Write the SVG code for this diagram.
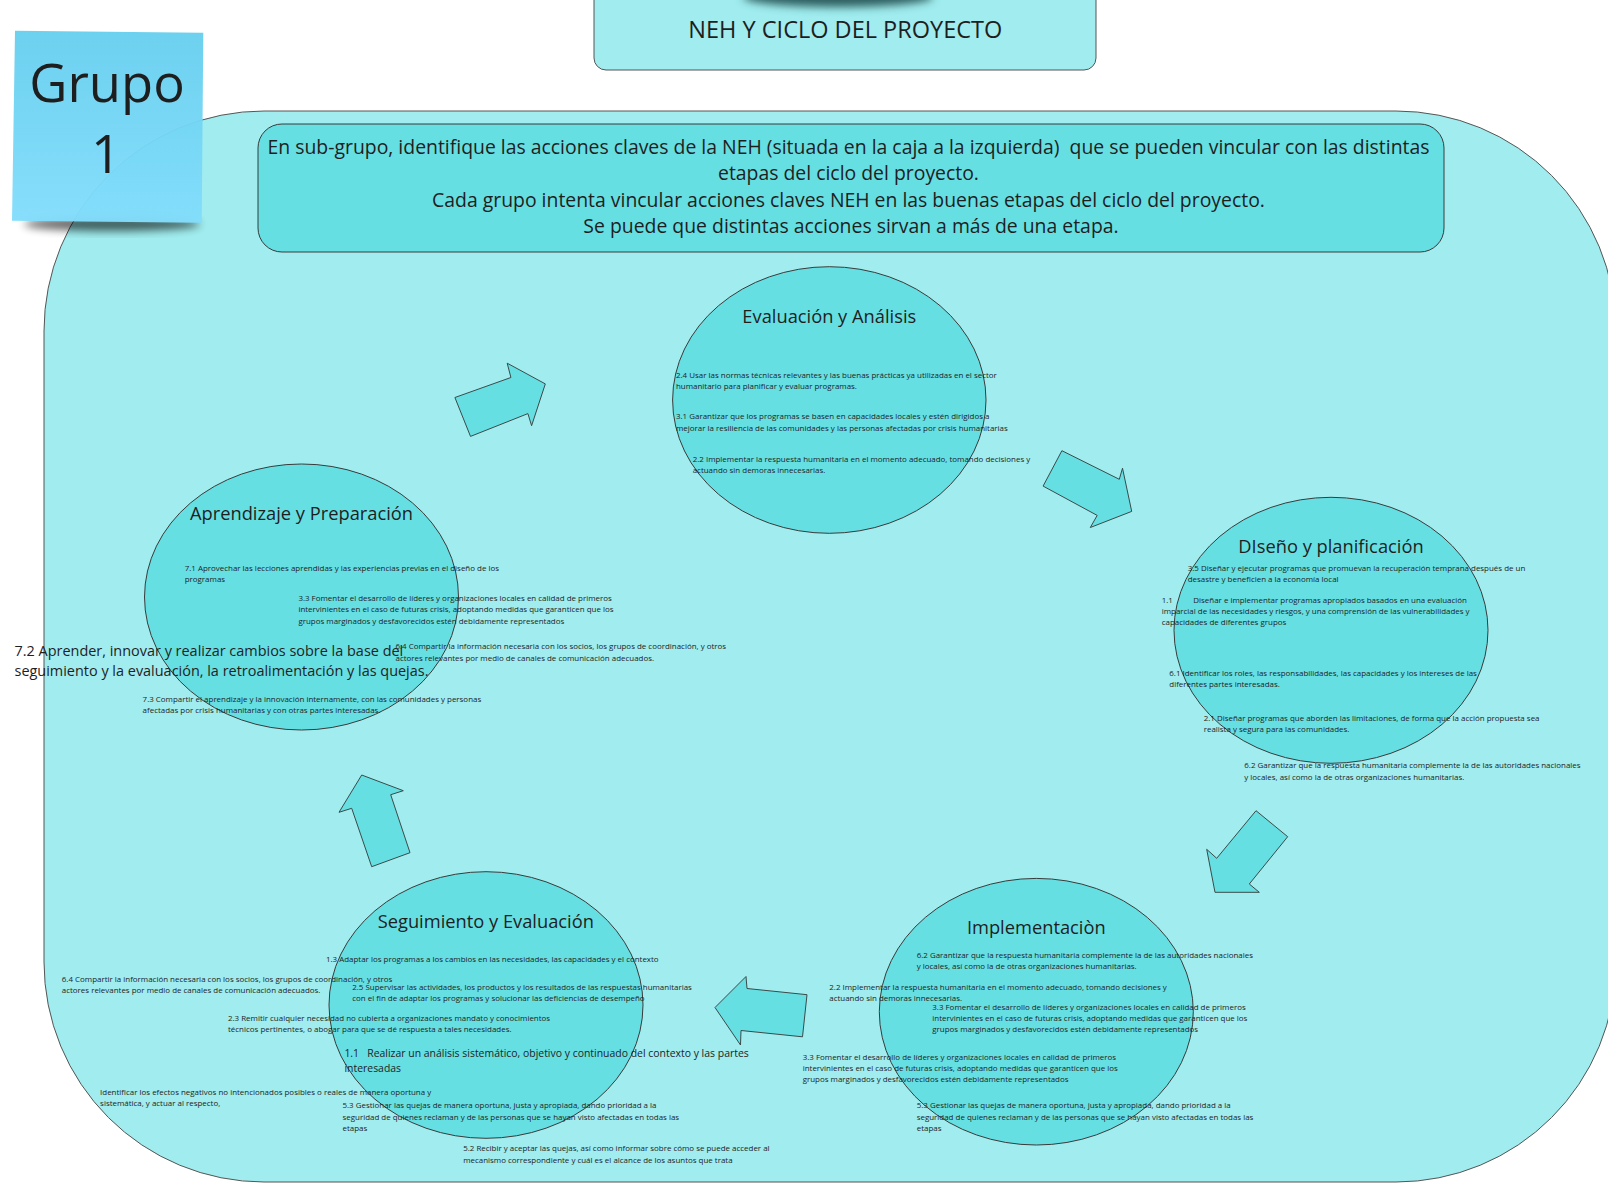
<svg xmlns="http://www.w3.org/2000/svg" width="1608" height="1183" viewBox="0 0 1608 1183">
<defs>
<style>
text { font-family: "Open Sans", "Noto Sans", "Liberation Sans", sans-serif; fill: #1e1e1e; }
.s { font-size: 7.95px; }
.m { font-size: 10.45px; }
.l { font-size: 14.45px; }
.t { font-size: 18.3px; text-anchor: middle; }
.node { fill: #66dfe3; stroke: #3a3a3a; stroke-width: 1; }
.arrow { fill: #66dfe3; stroke: #3a4a4a; stroke-width: 1; }
</style>
<filter id="blur" x="-50%" y="-50%" width="200%" height="200%"><feGaussianBlur stdDeviation="4"/></filter>
<linearGradient id="sticky" x1="0" y1="0" x2="0" y2="1">
<stop offset="0" stop-color="#66cfee"/>
<stop offset="1" stop-color="#82ddfc"/>
</linearGradient>
</defs>

<g id="container">
<rect x="44" y="111" width="1572" height="1071" rx="220" ry="220" fill="#a0ecee" stroke="#555" stroke-width="1"/>
</g>

<g id="title">
<rect x="594" y="-20" width="502" height="90" rx="12" fill="#a0ecee" stroke="#555" stroke-width="1"/>
<ellipse cx="838" cy="-3" rx="95" ry="10" fill="#2d5f60" filter="url(#blur)"/>
<text x="845.3" y="38.3" style="font-size:23.5px;text-anchor:middle">NEH Y CICLO DEL PROYECTO</text>
</g>

<g id="sticky-note">
<ellipse cx="112" cy="224" rx="88" ry="7" fill="#000" opacity="0.6" filter="url(#blur)"/>
<polygon points="15,30.7 203.3,32.7 201.7,222.7 12,220.7" fill="url(#sticky)" fill-opacity="0.96"/>
<text x="107" y="101.7" style="font-size:52.5px;text-anchor:middle">Grupo</text>
<text x="106" y="173.3" style="font-size:52.5px;text-anchor:middle">1</text>
</g>

<g id="instructions">
<rect x="258" y="124" width="1186" height="128" rx="24" fill="#66dfe3" stroke="#3a3a3a" stroke-width="1"/>
<text style="font-size:19.4px;text-anchor:middle">
<tspan x="851" y="154">En sub-grupo, identifique las acciones claves de la NEH (situada en la caja a la izquierda)&#160; que se pueden vincular con las distintas</tspan>
<tspan x="851" y="180.3">etapas del ciclo del proyecto.</tspan>
<tspan x="851" y="206.6">Cada grupo intenta vincular acciones claves NEH en las buenas etapas del ciclo del proyecto.</tspan>
<tspan x="851" y="232.9">Se puede que distintas acciones sirvan a más de una etapa.</tspan>
</text>
</g>

<g id="connectors">
<polygon class="arrow" points="454.9,397.5 510.9,377.5 507.2,363.2 545.3,383.9 531.6,425.7 527.9,413.6 470.5,436.4"/>
<polygon class="arrow" points="1061.9,450.7 1119.3,479.3 1122.5,468.2 1131.7,511.4 1090.3,527.5 1097.2,515.4 1043.1,486.1"/>
<polygon class="arrow" points="1256,810.7 1287.7,836.7 1249.3,884 1259.3,892.3 1215,892.3 1206.7,849.3 1216.7,858.3"/>
<polygon class="arrow" points="807,994.7 747,988.5 746,976.5 715,1007.5 740.5,1045 741,1030.5 802.5,1036.8"/>
<polygon class="arrow" points="361.7,775 403.3,790.7 390.7,794.7 410,852.7 371.7,866.7 351.7,808.3 339,812.3"/>
</g>

<g id="evaluacion">
<ellipse class="node" cx="829.3" cy="400" rx="156.7" ry="133.3"/>
<text class="t" x="829.3" y="323">Evaluación y Análisis</text>
<text class="s"><tspan x="676" y="377.6">2.4 Usar las normas técnicas relevantes y las buenas prácticas ya utilizadas en el sector</tspan><tspan x="676" dy="11.4">humanitario para planificar y evaluar programas.</tspan></text>
<text class="s"><tspan x="676" y="419.3">3.1 Garantizar que los programas se basen en capacidades locales y estén dirigidos a</tspan><tspan x="676" dy="11.4">mejorar la resiliencia de las comunidades y las personas afectadas por crisis humanitarias</tspan></text>
<text class="s"><tspan x="692.7" y="461.6">2.2 Implementar la respuesta humanitaria en el momento adecuado, tomando decisiones y</tspan><tspan x="692.7" dy="11.4">actuando sin demoras innecesarias.</tspan></text>
</g>

<g id="diseno">
<ellipse class="node" cx="1331" cy="630.3" rx="157" ry="133"/>
<text class="t" x="1331" y="553">DIseño y planificación</text>
<text class="s"><tspan x="1187.7" y="571">3.5 Diseñar y ejecutar programas que promuevan la recuperación temprana después de un</tspan><tspan x="1187.7" dy="11.4">desastre y beneficien a la economía local</tspan></text>
<text class="s"><tspan x="1161.7" y="602.6">1.1</tspan><tspan x="1193.3" y="602.6">Diseñar e implementar programas apropiados basados en una evaluación</tspan><tspan x="1161.7" dy="11.4">imparcial de las necesidades y riesgos, y una comprensión de las vulnerabilidades y</tspan><tspan x="1161.7" dy="11.4">capacidades de diferentes grupos</tspan></text>
<text class="s"><tspan x="1169.3" y="676">6.1 Identificar los roles, las responsabilidades, las capacidades y los intereses de las</tspan><tspan x="1169.3" dy="11.4">diferentes partes interesadas.</tspan></text>
<text class="s"><tspan x="1203.7" y="720.6">2.1 Diseñar programas que aborden las limitaciones, de forma que la acción propuesta sea</tspan><tspan x="1203.7" dy="11.4">realista y segura para las comunidades.</tspan></text>
<text class="s"><tspan x="1244.3" y="768.3">6.2 Garantizar que la respuesta humanitaria complemente la de las autoridades nacionales</tspan><tspan x="1244.3" dy="11.4">y locales, así como la de otras organizaciones humanitarias.</tspan></text>
</g>

<g id="implementacion">
<ellipse class="node" cx="1036.3" cy="1011.7" rx="157" ry="133.3"/>
<text class="t" x="1036.3" y="934">Implementaciòn</text>
<text class="s"><tspan x="916.7" y="957.6">6.2 Garantizar que la respuesta humanitaria complemente la de las autoridades nacionales</tspan><tspan x="916.7" dy="11.4">y locales, así como la de otras organizaciones humanitarias.</tspan></text>
<text class="s"><tspan x="829.3" y="989.6">2.2 Implementar la respuesta humanitaria en el momento adecuado, tomando decisiones y</tspan><tspan x="829.3" dy="11.4">actuando sin demoras innecesarias.</tspan></text>
<text class="s"><tspan x="932.3" y="1009.6">3.3 Fomentar el desarrollo de líderes y organizaciones locales en calidad de primeros</tspan><tspan x="932.3" dy="11.4">intervinientes en el caso de futuras crisis, adoptando medidas que garanticen que los</tspan><tspan x="932.3" dy="11.4">grupos marginados y desfavorecidos estén debidamente representados</tspan></text>
<text class="s"><tspan x="802.7" y="1059.6">3.3 Fomentar el desarrollo de líderes y organizaciones locales en calidad de primeros</tspan><tspan x="802.7" dy="11.4">intervinientes en el caso de futuras crisis, adoptando medidas que garanticen que los</tspan><tspan x="802.7" dy="11.4">grupos marginados y desfavorecidos estén debidamente representados</tspan></text>
<text class="s"><tspan x="916.7" y="1108.3">5.3 Gestionar las quejas de manera oportuna, justa y apropiada, dando prioridad a la</tspan><tspan x="916.7" dy="11.4">seguridad de quienes reclaman y de las personas que se hayan visto afectadas en todas las</tspan><tspan x="916.7" dy="11.4">etapas</tspan></text>
</g>

<g id="seguimiento">
<ellipse class="node" cx="486" cy="1005" rx="157" ry="133.3"/>
<text class="t" x="485.8" y="928.3">Seguimiento y Evaluación</text>
<text class="s" x="326" y="961.6">1.3 Adaptar los programas a los cambios en las necesidades, las capacidades y el contexto</text>
<text class="s"><tspan x="61.8" y="982">6.4 Compartir la información necesaria con los socios, los grupos de coordinación, y otros</tspan><tspan x="61.8" dy="11.4">actores relevantes por medio de canales de comunicación adecuados.</tspan></text>
<text class="s"><tspan x="352.2" y="989.6">2.5 Supervisar las actividades, los productos y los resultados de las respuestas humanitarias</tspan><tspan x="352.2" dy="11.4">con el fin de adaptar los programas y solucionar las deficiencias de desempeño</tspan></text>
<text class="s"><tspan x="228" y="1021">2.3 Remitir cualquier necesidad no cubierta a organizaciones mandato y conocimientos</tspan><tspan x="228" dy="11.4">técnicos pertinentes, o abogar para que se dé respuesta a tales necesidades.</tspan></text>
<text class="m"><tspan x="344.4" y="1056.8">1.1</tspan><tspan x="367.2" y="1056.8">Realizar un análisis sistemático, objetivo y continuado del contexto y las partes</tspan><tspan x="344.4" dy="15">interesadas</tspan></text>
<text class="s"><tspan x="100.1" y="1094.6">Identificar los efectos negativos no intencionados posibles o reales de manera oportuna y</tspan><tspan x="100.1" dy="11.4">sistemática, y actuar al respecto,</tspan></text>
<text class="s"><tspan x="342.5" y="1108.3">5.3 Gestionar las quejas de manera oportuna, justa y apropiada, dando prioridad a la</tspan><tspan x="342.5" dy="11.4">seguridad de quienes reclaman y de las personas que se hayan visto afectadas en todas las</tspan><tspan x="342.5" dy="11.4">etapas</tspan></text>
<text class="s"><tspan x="463.2" y="1151.3">5.2 Recibir y aceptar las quejas, así como informar sobre cómo se puede acceder al</tspan><tspan x="463.2" dy="11.4">mecanismo correspondiente y cuál es el alcance de los asuntos que trata</tspan></text>
</g>

<g id="aprendizaje">
<ellipse class="node" cx="301.5" cy="597" rx="157" ry="133"/>
<text class="t" x="301.5" y="520">Aprendizaje y Preparación</text>
<text class="s"><tspan x="184.7" y="571">7.1 Aprovechar las lecciones aprendidas y las experiencias previas en el diseño de los</tspan><tspan x="184.7" dy="11.4">programas</tspan></text>
<text class="s"><tspan x="298.4" y="600.9">3.3 Fomentar el desarrollo de líderes y organizaciones locales en calidad de primeros</tspan><tspan x="298.4" dy="11.4">intervinientes en el caso de futuras crisis, adoptando medidas que garanticen que los</tspan><tspan x="298.4" dy="11.4">grupos marginados y desfavorecidos estén debidamente representados</tspan></text>
<text class="s"><tspan x="395.5" y="649.3">6.4 Compartir la información necesaria con los socios, los grupos de coordinación, y otros</tspan><tspan x="395.5" dy="11.4">actores relevantes por medio de canales de comunicación adecuados.</tspan></text>
<text class="l"><tspan x="14.5" y="655.5">7.2 Aprender, innovar y realizar cambios sobre la base del</tspan><tspan x="14.5" dy="20.5">seguimiento y la evaluación, la retroalimentación y las quejas.</tspan></text>
<text class="s"><tspan x="142.6" y="702">7.3 Compartir el aprendizaje y la innovación internamente, con las comunidades y personas</tspan><tspan x="142.6" dy="11.4">afectadas por crisis humanitarias y con otras partes interesadas.</tspan></text>
</g>
</svg>
